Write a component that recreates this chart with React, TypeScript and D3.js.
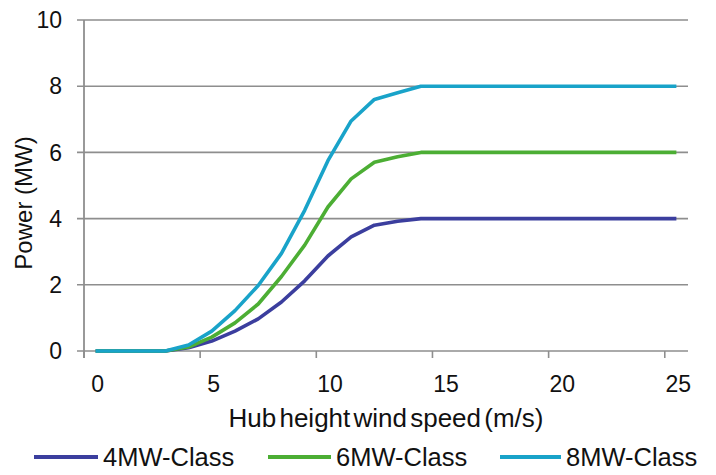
import * as d3 from 'd3'

const speeds = d3.range(0, 26)
const yTicks = [0, 2, 4, 6, 8, 10]
const xLabelEvery = 5

const power4MW = [0, 0, 0, 0, 0.1, 0.3, 0.6, 0.97, 1.48, 2.12, 2.87, 3.45, 3.8, 3.92, 4, 4, 4, 4, 4, 4, 4, 4, 4, 4, 4, 4]
const power6MW = [0, 0, 0, 0, 0.12, 0.42, 0.85, 1.42, 2.25, 3.2, 4.35, 5.2, 5.7, 5.87, 6, 6, 6, 6, 6, 6, 6, 6, 6, 6, 6, 6]
const power8MW = [0, 0, 0, 0, 0.18, 0.6, 1.22, 1.98, 2.95, 4.25, 5.75, 6.95, 7.6, 7.8, 8, 8, 8, 8, 8, 8, 8, 8, 8, 8, 8, 8]

const series = [
  { name: '4MW-Class', values: power4MW, color: '#3b3e9e' },
  { name: '6MW-Class', values: power6MW, color: '#4cae34' },
  { name: '8MW-Class', values: power8MW, color: '#19a3c9' }
]

const width = 716
const height = 475
const margin = { top: 20, right: 28, bottom: 124, left: 84 }
const font = 'Liberation Sans, Arial, sans-serif'
const gridColor = '#8e8e8e'

export default function App() {
  const x = d3.scaleBand<number>()
    .domain(speeds)
    .range([margin.left, width - margin.right])
  const y = d3.scaleLinear()
    .domain([0, 10])
    .range([height - margin.bottom, margin.top])

  const cx = (i: number) => (x(i) || 0) + x.bandwidth() / 2
  const line = d3.line<number>()
    .x((_, i) => cx(speeds[i]))
    .y(d => y(d))

  const y0 = y(0)
  const x0 = margin.left
  const x1 = width - margin.right
  const tickCats = speeds.filter(s => s % xLabelEvery === 0)

  // legend layout
  const legendY = 457
  const legendItems = [
    { lineX: 34, textX: 103 },
    { lineX: 268, textX: 336 },
    { lineX: 500, textX: 566 }
  ]

  return (
    <svg
      width={width}
      height={height}
      style={{ position: 'absolute', left: 0, top: 0, background: '#fff' }}
      fontFamily={font}
    >
      {/* gridlines + y ticks */}
      {yTicks.map(t => (
        <g key={t}>
          <line x1={x0 - 7} x2={x1} y1={y(t)} y2={y(t)} stroke={gridColor} strokeWidth={1.6} />
          <text x={62} y={y(t)} dy="0.36em" textAnchor="end" fontSize={23} fill="#111">{t}</text>
        </g>
      ))}

      {/* y axis line */}
      <line x1={x0} x2={x0} y1={margin.top} y2={y0 + 7} stroke={gridColor} strokeWidth={1.8} />

      {/* x ticks (between categories) */}
      {tickCats.map(s => (
        <line key={s} x1={x(s)} x2={x(s)} y1={y0} y2={y0 + 7} stroke={gridColor} strokeWidth={1.6} />
      ))}
      {tickCats.map(s => (
        <text key={'l' + s} x={cx(s) + 2} y={392} textAnchor="middle" fontSize={23} fill="#111">{s}</text>
      ))}

      {/* series */}
      {series.map(s => (
        <path key={s.name} d={line(s.values) || ''} fill="none" stroke={s.color} strokeWidth={3.6} strokeLinejoin="round" />
      ))}

      {/* axis titles */}
      <text x={(x0 + x1) / 2} y={427} textAnchor="middle" fontSize={26} wordSpacing={-4} fill="#111">
        Hub height wind speed (m/s)
      </text>
      <text
        transform={`translate(32,${203}) rotate(-90)`}
        textAnchor="middle"
        fontSize={24}
        fill="#111"
      >
        Power (MW)
      </text>

      {/* legend */}
      {series.map((s, i) => (
        <g key={'leg' + s.name}>
          <line x1={legendItems[i].lineX} x2={legendItems[i].textX - 5} y1={legendY} y2={legendY} stroke={s.color} strokeWidth={4} />
          <text x={legendItems[i].textX} y={legendY} dy="0.36em" fontSize={25.5} fill="#111">{s.name}</text>
        </g>
      ))}
    </svg>
  )
}
